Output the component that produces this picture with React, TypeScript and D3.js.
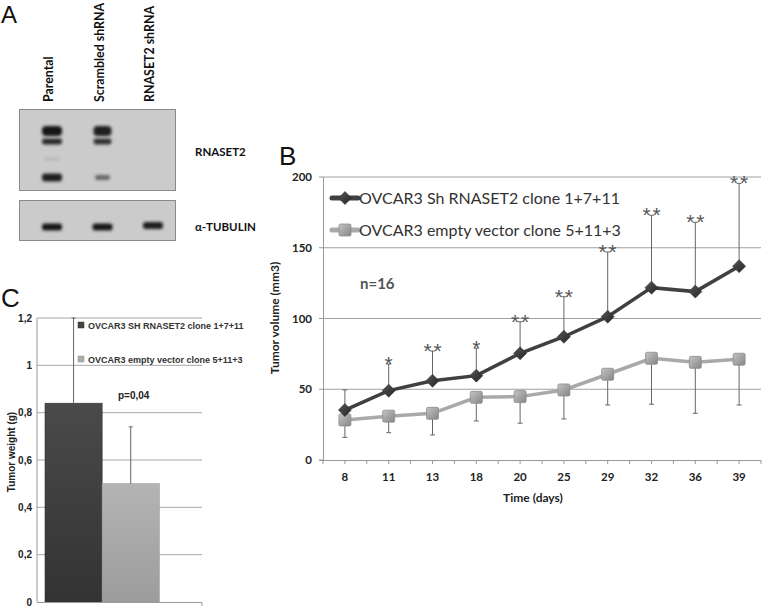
import React from "react";
import * as d3 from "d3";

// ---------- Panel A (western blot) ----------
const lanes = ["Parental", "Scrambled shRNA", "RNASET2 shRNA"];
const rnasetTopBand = [1.0, 0.95, 0];
const rnasetMidBand = [0.9, 0.85, 0];
const rnasetLowBand = [0.95, 0.55, 0];
const tubulinBand = [1.0, 1.0, 0.95];

// ---------- Panel B (tumor volume) ----------
const days = ["8", "11", "13", "18", "20", "25", "29", "32", "36", "39"];
const shMean = [35.3, 49, 56, 59.6, 75.4, 87.1, 101.3, 121.8, 119, 137];
const shSD = [14.2, 18.8, 21, 19.4, 22.3, 28.3, 45.7, 51.2, 49, 58.5];
const evMean = [28.3, 31, 33, 44.3, 44.8, 49.5, 60.6, 71.9, 69, 71.2];
const evSD = [12.3, 11.7, 15.3, 16.7, 18.8, 20.5, 21.7, 32.5, 36, 32.3];
const signif = ["", "*", "**", "*", "**", "**", "**", "**", "**", "**"];
const volumeTicks = [0, 50, 100, 150, 200];
const seriesB = ["OVCAR3 Sh RNASET2 clone 1+7+11", "OVCAR3 empty vector clone 5+11+3"];

// ---------- Panel C (tumor weight) ----------
const seriesC = ["OVCAR3 SH RNASET2 clone 1+7+11", "OVCAR3 empty vector clone 5+11+3"];
const weightMean = [0.84, 0.5];
const weightSD = [0.36, 0.24];
const weightTicks = [0, 0.2, 0.4, 0.6, 0.8, 1, 1.2];

const CAL = "Lato, 'Open Sans', sans-serif";
const ARI = "'Liberation Sans', Arial, sans-serif";

export default function App() {
  // Blot scales
  const laneX = d3.scalePoint<string>().domain(lanes).range([52, 153]);

  // Panel B scales
  const x = d3.scaleBand<string>().domain(days).range([323, 761]);
  const y = d3.scaleLinear().domain([0, 200]).range([460, 177]);
  const cx = (d: string) => (x(d) as number) + x.bandwidth() / 2;
  const lineGen = d3
    .line<number>()
    .x((_, i) => cx(days[i]))
    .y((v) => y(v));

  // Panel C scales
  const xc = d3.scaleBand<string>().domain(seriesC).range([45, 159.3]);
  const yc = d3.scaleLinear().domain([0, 1.2]).range([602, 318]);
  const fmtC = (v: number) => String(v).replace(".", ",");

  const halfTicks: number[] = [];
  days.forEach((d) => {
    halfTicks.push(x(d) as number);
    halfTicks.push(cx(d));
  });
  halfTicks.push(x.range()[1]);

  const diamond = (px: number, py: number, r: number) =>
    `M${px},${py - r}L${px + r},${py}L${px},${py + r}L${px - r},${py}Z`;

  const bandRect = (lx: number, cy: number, w: number, h: number, k: number, key: string) =>
    k > 0 ? (
      <rect
        key={key}
        x={lx - w / 2}
        y={cy - h / 2}
        width={w}
        height={h}
        rx={h / 2.5}
        fill="#151515"
        opacity={k}
        filter="url(#blur)"
      />
    ) : null;

  return (
    <svg
      width={763}
      height={607}
      style={{ position: "absolute", left: 0, top: 0, background: "#fff" }}
      fontFamily={CAL}
    >
      <defs>
        <filter id="blur" x="-50%" y="-50%" width="200%" height="200%">
          <feGaussianBlur stdDeviation="1.4" />
        </filter>
        <linearGradient id="darkBar" x1="0" y1="0" x2="0" y2="1">
          <stop offset="0" stopColor="#4a4a4a" />
          <stop offset="1" stopColor="#333" />
        </linearGradient>
        <linearGradient id="lightBar" x1="0" y1="0" x2="0" y2="1">
          <stop offset="0" stopColor="#b4b4b4" />
          <stop offset="1" stopColor="#9c9c9c" />
        </linearGradient>
        <linearGradient id="sqGrad" x1="0" y1="0" x2="1" y2="1">
          <stop offset="0" stopColor="#c4c4c4" />
          <stop offset="1" stopColor="#858585" />
        </linearGradient>
        <linearGradient id="dmGrad" x1="0" y1="0" x2="1" y2="1">
          <stop offset="0" stopColor="#555" />
          <stop offset="1" stopColor="#252525" />
        </linearGradient>
      </defs>

      {/* ================= Panel A ================= */}
      <text x={1} y={23} fontFamily={ARI} fontSize={24} fill="#111">A</text>
      {lanes.map((l) => (
        <text
          key={l}
          transform={`translate(${(laneX(l) as number) - 2},102) rotate(-90)`}
          fontSize={12.4}
          fontWeight="bold"
          fill="#111"
          dominantBaseline="middle"
        >
          {l}
        </text>
      ))}
      <rect x={19.5} y={109.5} width={156} height={81} fill="#cbcbcb" stroke="#8a8a8a" />
      <rect x={19.5} y={200.5} width={156} height={40} fill="#cbcbcb" stroke="#8a8a8a" />
      {lanes.map((l, i) => {
        const lx = laneX(l) as number;
        return (
          <g key={"b" + l}>
            {bandRect(lx, 131, i === 0 ? 20 : 18, 10, rnasetTopBand[i], "t")}
            {bandRect(lx, 141.5, i === 0 ? 20 : 18, 6, rnasetMidBand[i], "m")}
            {i === 0 ? bandRect(lx, 159, 16, 4, 0.08, "f") : null}
            {bandRect(lx, 177.5, i === 0 ? 20 : 15, i === 0 ? 8 : 5, rnasetLowBand[i], "l")}
            {bandRect(lx, i === 2 ? 225.5 : 227, 20, 7, tubulinBand[i], "tu")}
          </g>
        );
      })}
      <text x={195} y={156} fontSize={11.5} fontWeight="bold" fill="#111">RNASET2</text>
      <text x={195} y={231} fontSize={11.5} fontWeight="bold" fill="#111">α-TUBULIN</text>

      {/* ================= Panel B ================= */}
      <text x={279} y={165} fontFamily={ARI} fontSize={26} fill="#111">B</text>
      {volumeTicks.map((t) => (
        <g key={"gy" + t}>
          {t > 0 && (
            <line x1={323} x2={761} y1={y(t)} y2={y(t)} stroke="#a0a0a0" strokeWidth={1} />
          )}
          <line x1={319} x2={323} y1={y(t)} y2={y(t)} stroke="#999" />
          <text x={312} y={y(t) + 4} textAnchor="end" fontSize={11.5} fontWeight="bold" fill="#222">
            {t}
          </text>
        </g>
      ))}
      <line x1={323.5} x2={323.5} y1={177} y2={460} stroke="#999" />
      <line x1={319} x2={761} y1={460.5} y2={460.5} stroke="#999" />
      {halfTicks.map((t, i) => (
        <line key={"xt" + i} x1={t} x2={t} y1={460} y2={464} stroke="#999" />
      ))}
      {days.map((d) => (
        <text key={"xl" + d} x={cx(d)} y={481} textAnchor="middle" fontSize={11.5} fontWeight="bold" fill="#222">
          {d}
        </text>
      ))}
      <text x={533} y={502} textAnchor="middle" fontSize={12} fontWeight="bold" fill="#222">Time (days)</text>
      <text
        transform={`translate(276,318) rotate(-90)`}
        textAnchor="middle"
        dominantBaseline="middle"
        fontSize={12}
        fontWeight="bold"
        fill="#222"
      >
        Tumor volume (mm3)
      </text>

      {/* error bars */}
      {days.map((d, i) => {
        const px = cx(d);
        const top = y(shMean[i] + shSD[i]);
        const bot = y(evMean[i] - evSD[i]);
        const stars = signif[i].split("");
        return (
          <g key={"eb" + d}>
            <line x1={px} x2={px} y1={y(shMean[i])} y2={top} stroke="#666" />
            <line x1={px - 2.5} x2={px + 2.5} y1={top} y2={top} stroke="#666" />
            <line x1={px} x2={px} y1={y(evMean[i])} y2={bot} stroke="#666" />
            <line x1={px - 2.5} x2={px + 2.5} y1={bot} y2={bot} stroke="#666" />
            {stars.map((s, k) => (
              <text
                key={k}
                x={px + (k - (stars.length - 1) / 2) * 10}
                y={top + 7}
                textAnchor="middle"
                fontFamily={ARI}
                fontSize={21}
                fill="#555"
              >
                {s}
              </text>
            ))}
          </g>
        );
      })}

      {/* lines */}
      <path d={lineGen(evMean) || ""} fill="none" stroke="#a9a9a9" strokeWidth={3.5} />
      <path d={lineGen(shMean) || ""} fill="none" stroke="#404040" strokeWidth={3.5} />
      {days.map((d, i) => (
        <rect
          key={"sq" + d}
          x={cx(d) - 6}
          y={y(evMean[i]) - 6}
          width={12}
          height={12}
          rx={1.5}
          fill="url(#sqGrad)"
          stroke="#8d8d8d"
          strokeWidth={0.8}
        />
      ))}
      {days.map((d, i) => (
        <path key={"dm" + d} d={diamond(cx(d), y(shMean[i]), 6.5)} fill="url(#dmGrad)" stroke="#333" strokeWidth={0.6} />
      ))}

      {/* legend B */}
      <line x1={332} x2={358} y1={198} y2={198} stroke="#404040" strokeWidth={5} strokeLinecap="round" />
      <path d={diamond(345, 198, 6.5)} fill="url(#dmGrad)" stroke="#333" strokeWidth={0.6} />
      <text x={359} y={204} fontSize={16} fill="#333">{seriesB[0]}</text>
      <line x1={332} x2={358} y1={230} y2={230} stroke="#a9a9a9" strokeWidth={5} strokeLinecap="round" />
      <rect x={339} y={224} width={12} height={12} rx={1.5} fill="url(#sqGrad)" stroke="#8d8d8d" strokeWidth={0.8} />
      <text x={359} y={236} fontSize={16} fill="#333">{seriesB[1]}</text>
      <text x={360} y={289} fontSize={15} fontWeight="bold" fill="#555">n=16</text>

      {/* ================= Panel C ================= */}
      <text x={1} y={307} fontFamily={ARI} fontSize={26} fill="#111">C</text>
      {weightTicks.map((t) => (
        <g key={"cy" + t}>
          {t > 0 && (
            <line x1={37} x2={202} y1={yc(t)} y2={yc(t)} stroke="#a8a8a8" />
          )}
          <text x={32} y={yc(t) + 3.5} textAnchor="end" fontFamily={ARI} fontSize={10} fontWeight="bold" fill="#222">
            {fmtC(t)}
          </text>
        </g>
      ))}
      {seriesC.map((s, i) => (
        <rect
          key={"bar" + s}
          x={xc(s) as number}
          y={yc(weightMean[i])}
          width={xc.bandwidth()}
          height={yc(0) - yc(weightMean[i])}
          fill={i === 0 ? "url(#darkBar)" : "url(#lightBar)"}
          stroke={i === 0 ? "#333" : "#999"}
          strokeWidth={0.6}
        />
      ))}
      {seriesC.map((s, i) => {
        const px = (xc(s) as number) + xc.bandwidth() / 2;
        const top = yc(weightMean[i] + weightSD[i]);
        return (
          <g key={"ce" + s}>
            <line x1={px} x2={px} y1={yc(weightMean[i])} y2={top} stroke="#666" />
            <line x1={px - 2} x2={px + 2} y1={top} y2={top} stroke="#666" />
          </g>
        );
      })}
      <line x1={37} x2={37} y1={318} y2={602} stroke="#999" />
      <line x1={37} x2={202} y1={602.5} y2={602.5} stroke="#999" />
      <line x1={202} x2={202} y1={602} y2={606} stroke="#999" />
      <text
        transform={`translate(12,452) rotate(-90)`}
        textAnchor="middle"
        dominantBaseline="middle"
        fontFamily={ARI}
        fontSize={10}
        fontWeight="bold"
        fill="#222"
      >
        Tumor weight (g)
      </text>
      {/* legend C */}
      <rect x={78} y={322} width={6} height={6} fill="#444" stroke="#333" strokeWidth={0.5} />
      <text x={88} y={328.5} fontFamily={ARI} fontSize={9} fontWeight="bold" fill="#333">{seriesC[0]}</text>
      <rect x={78} y={356} width={6} height={6} fill="#aaa" stroke="#999" strokeWidth={0.5} />
      <text x={88} y={362.5} fontFamily={ARI} fontSize={9} fontWeight="bold" fill="#333">{seriesC[1]}</text>
      <text x={118} y={399} fontFamily={ARI} fontSize={10} fontWeight="bold" fill="#222">p=0,04</text>
    </svg>
  );
}
